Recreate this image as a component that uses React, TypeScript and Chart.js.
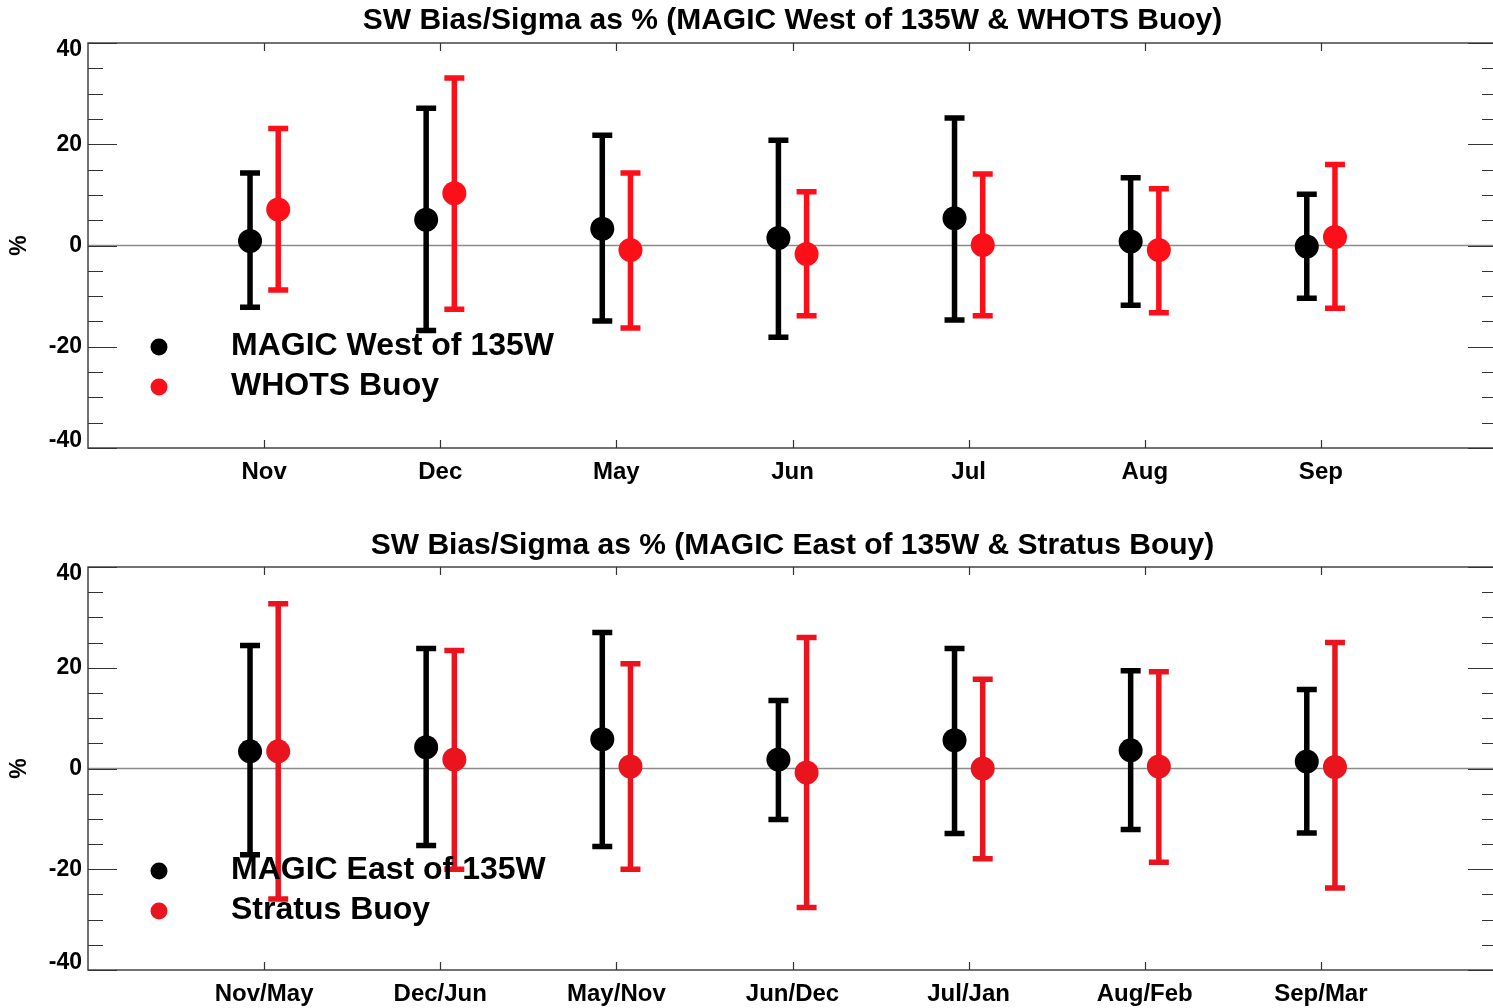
import React, { useEffect, useRef } from "react";
import { Chart, registerables } from "chart.js";
Chart.register(...registerables);

const topCategories = ["Nov", "Dec", "May", "Jun", "Jul", "Aug", "Sep"];
const bottomCategories = ["Nov/May", "Dec/Jun", "May/Nov", "Jun/Dec", "Jul/Jan", "Aug/Feb", "Sep/Mar"];
const yTickValues = [-40, -20, 0, 20, 40];
const yMinorStep = 5;

const topTitle = "SW Bias/Sigma as % (MAGIC West of 135W & WHOTS Buoy)";
const bottomTitle = "SW Bias/Sigma as % (MAGIC East of 135W & Stratus Bouy)";
const yAxisLabel = "%";

const westLabel = "MAGIC West of 135W";
const westMean = [0.9, 5.1, 3.3, 1.5, 5.4, 0.8, -0.2];
const westHigh = [14.3, 27.1, 21.8, 20.8, 25.2, 13.4, 10.1];
const westLow = [-12.2, -16.8, -14.9, -18.1, -14.7, -11.8, -10.4];

const whotsLabel = "WHOTS Buoy";
const whotsMean = [7.1, 10.3, -0.9, -1.7, 0.1, -0.9, 1.7];
const whotsHigh = [23.1, 33.1, 14.3, 10.6, 14.1, 11.2, 16.0];
const whotsLow = [-8.8, -12.6, -16.3, -13.9, -13.9, -13.3, -12.4];

const eastLabel = "MAGIC East of 135W";
const eastMean = [3.4, 4.2, 5.8, 1.8, 5.6, 3.6, 1.4];
const eastHigh = [24.4, 23.8, 27.0, 13.5, 23.8, 19.4, 15.7];
const eastLow = [-17.1, -15.3, -15.5, -10.1, -12.9, -12.1, -12.8];

const stratusLabel = "Stratus Buoy";
const stratusMean = [3.4, 1.8, 0.4, -0.8, 0.0, 0.4, 0.3];
const stratusHigh = [32.7, 23.4, 20.8, 26.0, 17.7, 19.2, 25.0];
const stratusLow = [-25.9, -20.0, -20.0, -27.6, -17.9, -18.6, -23.7];

const FONT = "'Liberation Sans', Arial, Helvetica, sans-serif";

type Series = { label: string; color: string; mean: number[]; low: number[]; high: number[]; offset: number };

const panelPlugin = {
  id: "panelDecor",
  beforeDatasetsDraw(chart: any) {
    const { ctx, chartArea: a, scales } = chart;
    const y = scales.y;
    ctx.save();
    // zero line
    ctx.strokeStyle = "#8a8a8a";
    ctx.lineWidth = 1.5;
    ctx.beginPath();
    ctx.moveTo(a.left, y.getPixelForValue(0));
    ctx.lineTo(a.right, y.getPixelForValue(0));
    ctx.stroke();
    // error bars
    chart.data.datasets.forEach((ds: any, di: number) => {
      const meta = chart.getDatasetMeta(di);
      ctx.strokeStyle = ds.backgroundColor;
      ctx.lineWidth = 5.5;
      ctx.lineCap = "butt";
      meta.data.forEach((pt: any, j: number) => {
        const px = pt.x;
        const yl = y.getPixelForValue(ds.errLow[j]);
        const yh = y.getPixelForValue(ds.errHigh[j]);
        ctx.beginPath();
        ctx.moveTo(px, yl);
        ctx.lineTo(px, yh);
        ctx.moveTo(px - 10, yl);
        ctx.lineTo(px + 10, yl);
        ctx.moveTo(px - 10, yh);
        ctx.lineTo(px + 10, yh);
        ctx.stroke();
      });
    });
    ctx.restore();
  },
  afterDraw(chart: any) {
    const { ctx, chartArea: a, scales } = chart;
    const x = scales.x;
    const y = scales.y;
    const opts = chart.options.plugins.panelDecor;
    ctx.save();
    // frame
    ctx.strokeStyle = "#444";
    ctx.lineWidth = 1.5;
    ctx.strokeRect(a.left, a.top, a.right - a.left, a.bottom - a.top);
    // y ticks (inward, both sides)
    ctx.strokeStyle = "#333";
    ctx.lineWidth = 1.2;
    const yMin = y.min, yMax = y.max;
    for (let v = yMin; v <= yMax; v += yMinorStep) {
      const py = Math.round(y.getPixelForValue(v)) + 0.5;
      const major = yTickValues.includes(v);
      const len = major ? 29 : 15;
      ctx.beginPath();
      ctx.moveTo(a.left, py);
      ctx.lineTo(a.left + len, py);
      ctx.moveTo(a.right, py);
      ctx.lineTo(a.right - len, py);
      ctx.stroke();
    }
    // x ticks (inward, top and bottom)
    opts.categories.forEach((_: string, i: number) => {
      const px = Math.round(x.getPixelForValue(i)) + 0.5;
      ctx.beginPath();
      ctx.moveTo(px, a.top);
      ctx.lineTo(px, a.top + 8);
      ctx.moveTo(px, a.bottom);
      ctx.lineTo(px, a.bottom - 8);
      ctx.stroke();
    });
    // y tick labels
    ctx.fillStyle = "#000";
    ctx.font = `bold 23px ${FONT}`;
    ctx.textAlign = "right";
    ctx.textBaseline = "middle";
    yTickValues.forEach((v) => {
      let py = y.getPixelForValue(v);
      if (v === yMax) py += 7;
      if (v === yMin) py -= 7;
      ctx.fillText(String(v), a.left - 6, py);
    });
    // y axis label
    ctx.save();
    ctx.translate(20, (a.top + a.bottom) / 2);
    ctx.rotate(-Math.PI / 2);
    ctx.textAlign = "center";
    ctx.textBaseline = "middle";
    ctx.font = `bold 23px ${FONT}`;
    ctx.fillText(yAxisLabel, 0, 0);
    ctx.restore();
    // title
    ctx.font = `bold 30px ${FONT}`;
    ctx.textAlign = "center";
    ctx.textBaseline = "middle";
    ctx.fillText(opts.title, (a.left + a.right) / 2, 21);
    // legend
    chart.data.datasets.forEach((ds: any, di: number) => {
      const cy = a.top + 304 + di * 40;
      ctx.fillStyle = ds.backgroundColor;
      ctx.beginPath();
      ctx.arc(a.left + 71, cy, 8.5, 0, Math.PI * 2);
      ctx.fill();
      ctx.fillStyle = "#000";
      ctx.font = `bold 32px ${FONT}`;
      ctx.textAlign = "left";
      ctx.textBaseline = "alphabetic";
      ctx.fillText(ds.label, a.left + 143, cy + 8);
    });
    ctx.restore();
  },
};

function Panel(props: {
  title: string;
  categories: string[];
  series: Series[];
  top: number;
  height: number;
  padTop: number;
  xAxisHeight: number;
}) {
  const ref = useRef<HTMLCanvasElement | null>(null);
  useEffect(() => {
    const canvas = ref.current!;
    const chart = new Chart(canvas, {
      type: "scatter",
      data: {
        datasets: props.series.map((s) => ({
          label: s.label,
          data: s.mean.map((m, i) => ({ x: i + s.offset, y: m })),
          backgroundColor: s.color,
          borderColor: s.color,
          pointRadius: 12,
          pointBorderWidth: 0,
          pointHoverRadius: 12,
          errLow: s.low,
          errHigh: s.high,
        })) as any,
      },
      options: {
        responsive: false,
        animation: false,
        devicePixelRatio: 1,
        layout: { autoPadding: false, padding: { top: props.padTop, right: 3, left: 0, bottom: 0 } },
        plugins: {
          legend: { display: false },
          tooltip: { enabled: false },
          title: { display: false },
          panelDecor: { title: props.title, categories: props.categories },
        } as any,
        scales: {
          x: {
            type: "linear",
            min: -1,
            max: 7,
            grid: { display: false, drawTicks: false },
            border: { display: false },
            afterBuildTicks: (scale: any) => {
              scale.ticks = props.categories.map((_, i) => ({ value: i }));
            },
            afterFit: (scale: any) => {
              scale.height = props.xAxisHeight;
              scale.paddingLeft = 0;
              scale.paddingRight = 0;
            },
            ticks: {
              padding: 10,
              color: "#000",
              font: { family: FONT, size: 24, weight: "bold" },
              callback: (v: any) => props.categories[v] ?? "",
              maxRotation: 0,
              autoSkip: false,
            },
          },
          y: {
            type: "linear",
            min: -40,
            max: 40,
            grid: { display: false, drawTicks: false },
            border: { display: false },
            ticks: { display: false },
            afterFit: (scale: any) => {
              scale.width = 88;
              scale.paddingTop = 0;
              scale.paddingBottom = 0;
            },
          },
        },
      },
      plugins: [panelPlugin],
    });
    return () => chart.destroy();
  }, []);
  return (
    <canvas
      ref={ref}
      width={1500}
      height={props.height}
      style={{ position: "absolute", left: 0, top: props.top, width: 1500, height: props.height }}
    />
  );
}

export default function App() {
  const topSeries: Series[] = [
    { label: westLabel, color: "#000000", mean: westMean, low: westLow, high: westHigh, offset: -0.08 },
    { label: whotsLabel, color: "#fc0f19", mean: whotsMean, low: whotsLow, high: whotsHigh, offset: 0.08 },
  ];
  const bottomSeries: Series[] = [
    { label: eastLabel, color: "#000000", mean: eastMean, low: eastLow, high: eastHigh, offset: -0.08 },
    { label: stratusLabel, color: "#ea141e", mean: stratusMean, low: stratusLow, high: stratusHigh, offset: 0.08 },
  ];
  return (
    <div
      style={{
        position: "fixed",
        left: 0,
        top: 0,
        width: 1493,
        height: 1008,
        overflow: "hidden",
        background: "#fff",
      }}
    >
      <Panel title={topTitle} categories={topCategories} series={topSeries} top={0} height={493} padTop={43} xAxisHeight={45} />
      <Panel title={bottomTitle} categories={bottomCategories} series={bottomSeries} top={525} height={483} padTop={42} xAxisHeight={38} />
    </div>
  );
}
